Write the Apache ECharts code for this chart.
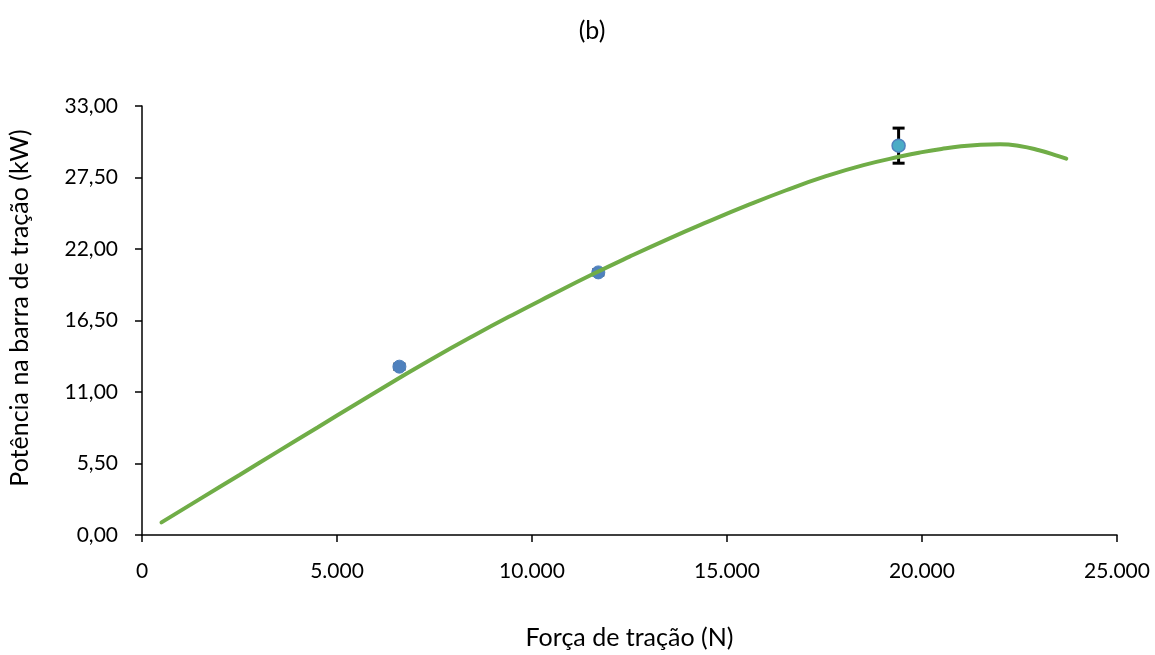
<!DOCTYPE html>
<html>
<head>
<meta charset="utf-8">
<script src="https://cdn.jsdelivr.net/npm/echarts@6/dist/echarts.min.js"></script>
<style>
  html, body { margin: 0; padding: 0; background: #fff; }
  #chart { width: 1155px; height: 655px; }
</style>
</head>
<body>
<div id="chart"></div>
<script>
// Measured points: traction force (N) vs drawbar power (kW), with error half-widths
const pointX = [6600, 11700, 19400];
const pointY = [12.95, 20.2, 29.95];
const pointErr = [0.2, 0.2, 1.35];

// Fitted curve, sampled along its length
const curveX = [500, 1500, 2500, 3500, 4500, 5500, 6500, 7500, 8500, 9500, 10500, 11500, 12500, 13500, 14500, 15500, 16500, 17500, 18500, 19500, 20000, 20500, 21000, 21500, 22000, 22500, 23000, 23500, 23700];
const curveY = [0.97, 2.8, 4.62, 6.45, 8.27, 10.1, 11.9, 13.66, 15.33, 16.93, 18.47, 19.98, 21.41, 22.78, 24.08, 25.33, 26.5, 27.56, 28.45, 29.15, 29.45, 29.7, 29.9, 30.02, 30.06, 29.93, 29.6, 29.15, 28.95];

// Axis ticks
const xTicks = [0, 5000, 10000, 15000, 20000, 25000];
const yTicks = [0, 5.5, 11, 16.5, 22, 27.5, 33];

const FONT = 'Lato';
const TICK_SIZE = 21;
const NAME_SIZE = 25;

const fmtThousands = v => String(Math.round(v)).replace(/\B(?=(\d{3})+(?!\d))/g, '.');
const fmtComma = v => v.toFixed(2).replace('.', ',');

const pointData = pointX.map((x, i) => ({
  value: [x, pointY[i]],
  itemStyle: i === 2
    ? { color: '#4bacc6', borderColor: '#4f81bd', borderWidth: 1.5, opacity: 1 }
    : { color: '#4f81bd', borderColor: '#4f81bd', borderWidth: 1, opacity: 1 }
}));
const errData = pointX.map((x, i) => [x, pointY[i] - pointErr[i], pointY[i] + pointErr[i]]);
const curveData = curveX.map((x, i) => [x, curveY[i]]);

const chart = echarts.init(document.getElementById('chart'), null, { renderer: 'canvas' });

chart.setOption({
  animation: false,
  backgroundColor: '#ffffff',
  graphic: [
    {
      type: 'text',
      x: 592, y: 31,
      style: { text: '(b)', font: '25px ' + FONT, fill: '#000', align: 'center', verticalAlign: 'middle' }
    },
    {
      // vertical axis title
      type: 'text',
      x: 20, y: 308,
      rotation: Math.PI / 2,
      style: { text: 'Potência na barra de tração (kW)', font: NAME_SIZE + 'px ' + FONT, fill: '#000', align: 'center', verticalAlign: 'middle' }
    }
  ],
  grid: { left: 142, right: 38, top: 106, bottom: 116, containLabel: false },
  xAxis: {
    type: 'value',
    min: xTicks[0],
    max: xTicks[xTicks.length - 1],
    interval: xTicks[1] - xTicks[0],
    name: 'Força de tração (N)',
    nameLocation: 'middle',
    nameGap: 90,
    nameTextStyle: { fontFamily: FONT, fontSize: NAME_SIZE, color: '#000' },
    axisLine: { show: true, onZero: false, lineStyle: { color: '#000', width: 1.5 } },
    axisTick: { show: true, inside: false, length: 7, lineStyle: { color: '#000', width: 1.5 } },
    axisLabel: { margin: 26, fontFamily: FONT, fontSize: TICK_SIZE, color: '#000', formatter: fmtThousands },
    splitLine: { show: false }
  },
  yAxis: {
    type: 'value',
    min: yTicks[0],
    max: yTicks[yTicks.length - 1],
    interval: yTicks[1] - yTicks[0],
    axisLine: { show: true, lineStyle: { color: '#000', width: 1.5 } },
    axisTick: { show: true, inside: false, length: 7, lineStyle: { color: '#000', width: 1.5 } },
    axisLabel: { margin: 24, fontFamily: FONT, fontSize: TICK_SIZE, color: '#000', formatter: fmtComma },
    splitLine: { show: false }
  },
  series: [
    {
      name: 'erro',
      type: 'custom',
      z: 1,
      data: errData,
      renderItem: function (params, api) {
        const x = api.value(0);
        const lo = api.coord([x, api.value(1)]);
        const hi = api.coord([x, api.value(2)]);
        const cap = 6;
        const style = { stroke: '#000', lineWidth: 3 };
        return {
          type: 'group',
          children: [
            { type: 'line', shape: { x1: lo[0], y1: lo[1], x2: hi[0], y2: hi[1] }, style: style },
            { type: 'line', shape: { x1: lo[0] - cap, y1: lo[1], x2: lo[0] + cap, y2: lo[1] }, style: style },
            { type: 'line', shape: { x1: hi[0] - cap, y1: hi[1], x2: hi[0] + cap, y2: hi[1] }, style: style }
          ]
        };
      }
    },
    {
      name: 'observado',
      type: 'scatter',
      z: 10,
      symbol: 'circle',
      symbolSize: 13,
      data: pointData
    },
    {
      name: 'ajuste',
      type: 'line',
      z: 11,
      data: curveData,
      smooth: 0.5,
      showSymbol: false,
      symbol: 'none',
      lineStyle: { color: '#70ad47', width: 4, cap: 'round' }
    }
  ]
});
</script>
</body>
</html>
